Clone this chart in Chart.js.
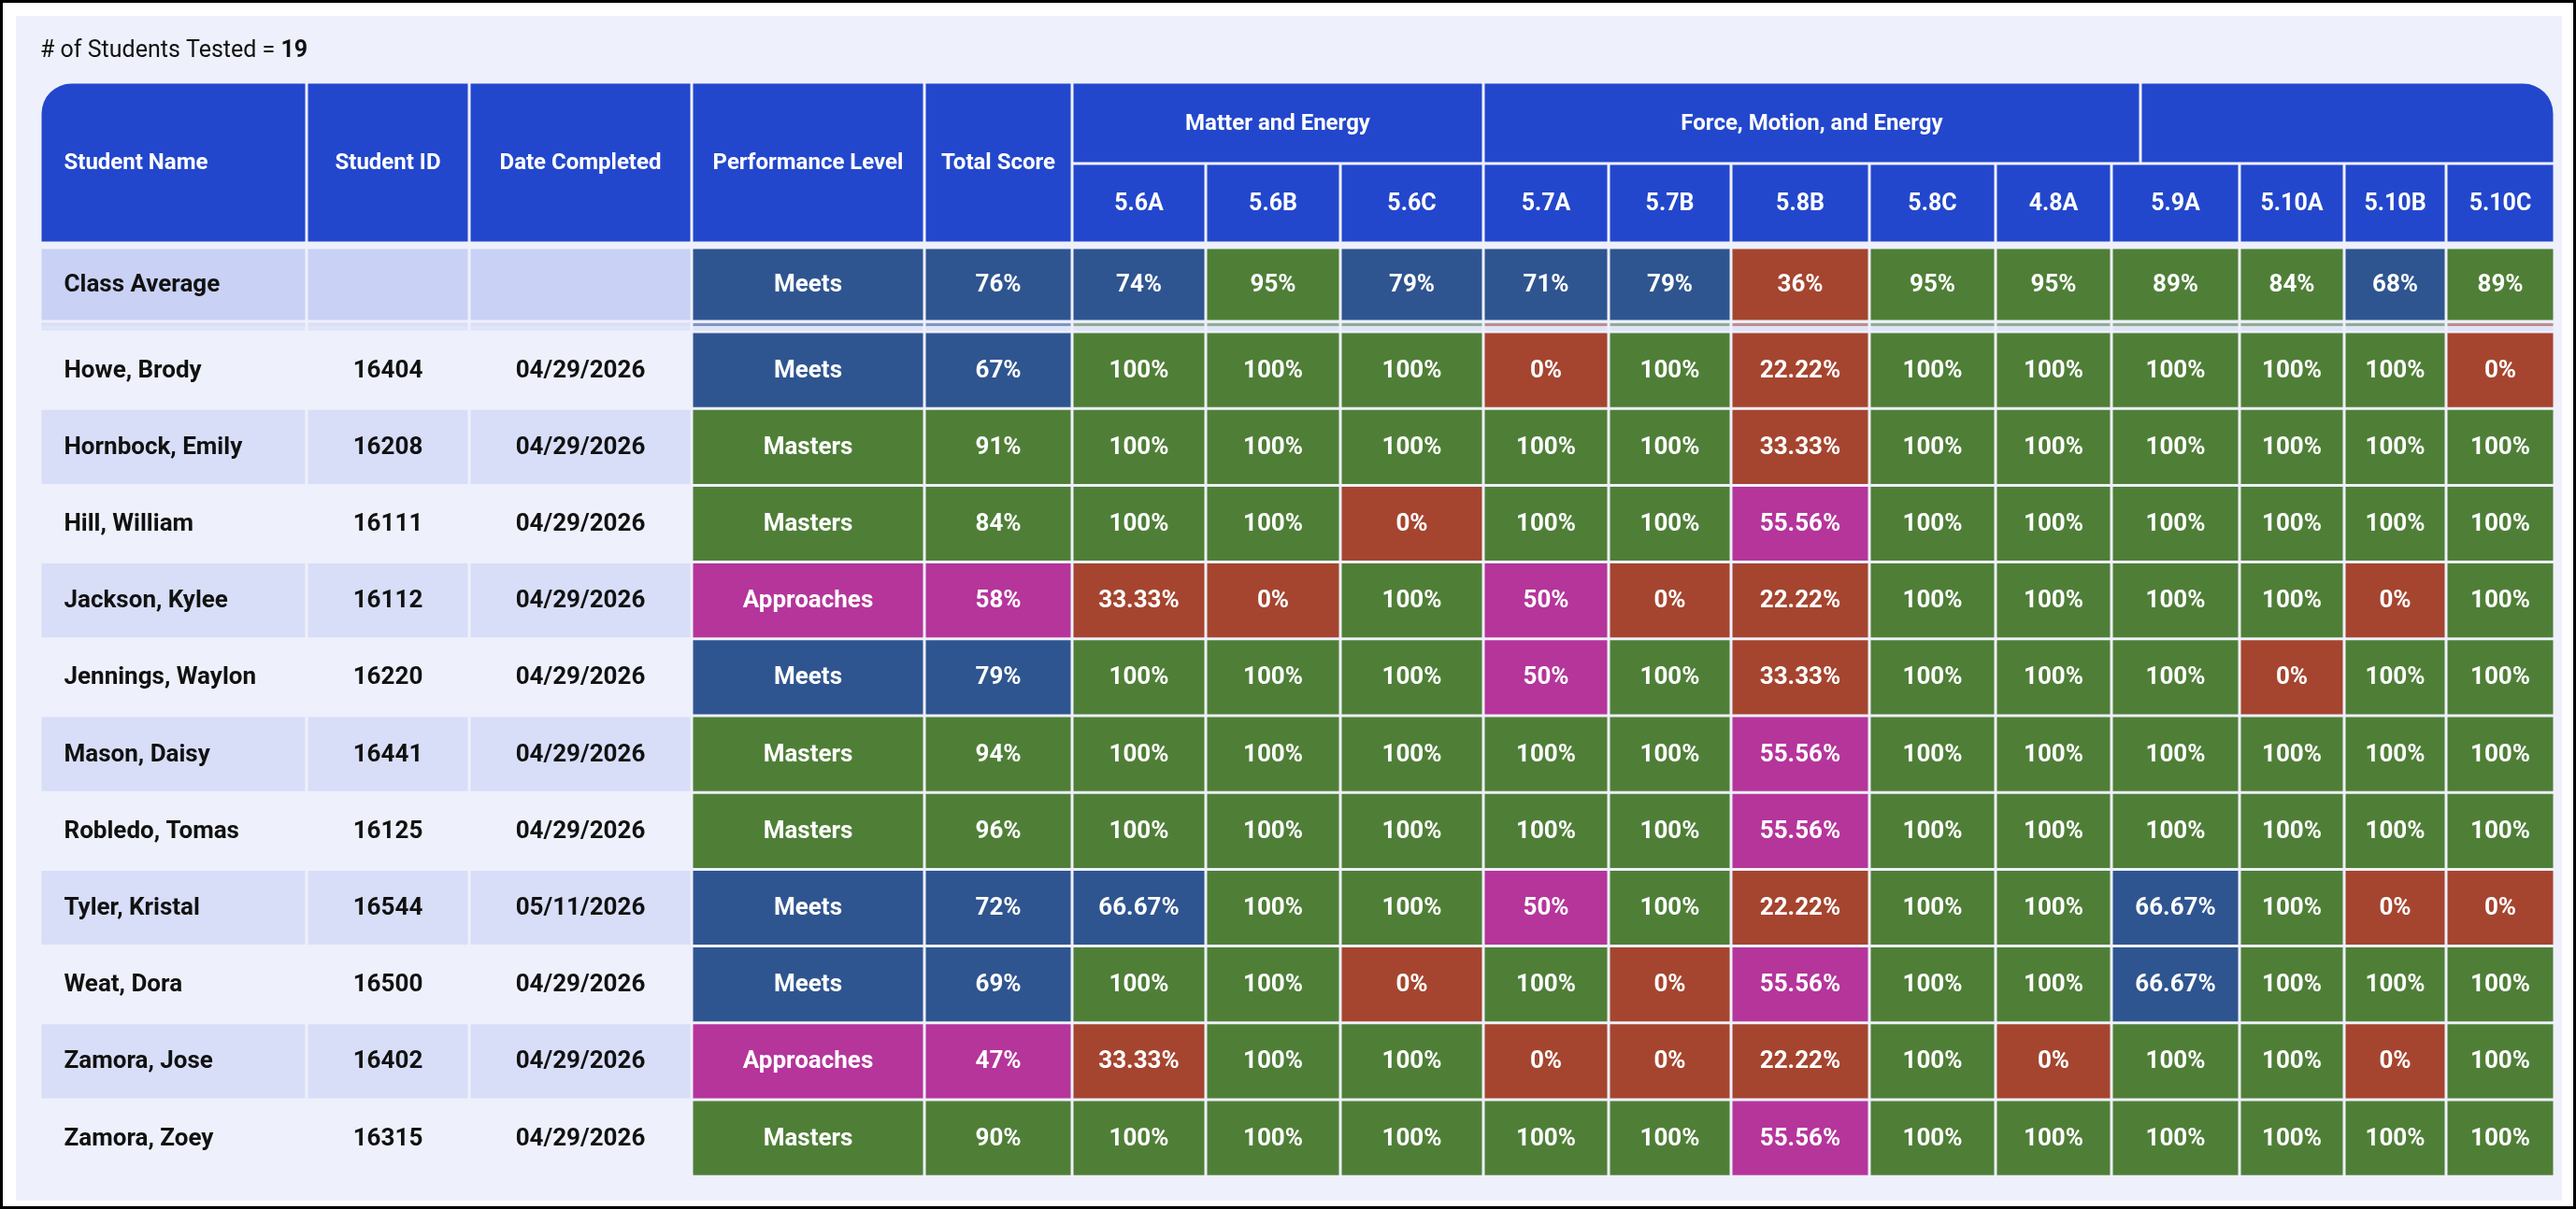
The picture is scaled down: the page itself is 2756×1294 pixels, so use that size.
<!DOCTYPE html>
<html><head><meta charset="utf-8">
<script src="https://cdn.jsdelivr.net/npm/chart.js@4"></script>
<style>
html,body{margin:0;padding:0;background:#fff;}
#wrap{width:2756px;height:1294px;box-sizing:border-box;border:3px solid #000;}
canvas{display:block;}
</style></head>
<body><div id="wrap"><canvas id="c" width="2750" height="1288"></canvas></div>
<script>
// ── Data ─────────────────────────────────────────────────────────────────────
const studentsTested = 19;
const groups = ["Matter and Energy", "Force, Motion, and Energy", ""];
const groupSpans = [3, 5, 4];
const fixedHeaders = ["Student Name", "Student ID", "Date Completed", "Performance Level", "Total Score"];
const standards = ["5.6A","5.6B","5.6C","5.7A","5.7B","5.8B","5.8C","4.8A","5.9A","5.10A","5.10B","5.10C"];

const names = ["Howe, Brody","Hornbock, Emily","Hill, William","Jackson, Kylee","Jennings, Waylon",
  "Mason, Daisy","Robledo, Tomas","Tyler, Kristal","Weat, Dora","Zamora, Jose","Zamora, Zoey"];
const ids = ["16404","16208","16111","16112","16220","16441","16125","16544","16500","16402","16315"];
const dates = ["04/29/2026","04/29/2026","04/29/2026","04/29/2026","04/29/2026","04/29/2026",
  "04/29/2026","05/11/2026","04/29/2026","04/29/2026","04/29/2026"];
const levels = ["Meets","Masters","Masters","Approaches","Meets","Masters","Masters","Meets","Meets","Approaches","Masters"];
const totals = [67, 91, 84, 58, 79, 94, 96, 72, 69, 47, 90];
const scores = [
  [100,100,100, 0,100,22.22,100,100, 100,100,100,0],
  [100,100,100, 100,100,33.33,100,100, 100,100,100,100],
  [100,100,0, 100,100,55.56,100,100, 100,100,100,100],
  [33.33,0,100, 50,0,22.22,100,100, 100,100,0,100],
  [100,100,100, 50,100,33.33,100,100, 100,0,100,100],
  [100,100,100, 100,100,55.56,100,100, 100,100,100,100],
  [100,100,100, 100,100,55.56,100,100, 100,100,100,100],
  [66.67,100,100, 50,100,22.22,100,100, 66.67,100,0,0],
  [100,100,0, 100,0,55.56,100,100, 66.67,100,100,100],
  [33.33,100,100, 0,0,22.22,100,0, 100,100,0,100],
  [100,100,100, 100,100,55.56,100,100, 100,100,100,100]
];
const avgLevel = "Meets";
const avgTotal = 76;
const avgScores = [74,95,79, 71,79,36,95,95, 89,84,68,89];

// ── Layout (pixels in chart scale units) ─────────────────────────────────────
const COL_EDGES = [40,325,499,737,986,1144,1287,1431,1584,1718,1849,1997,2132,2256,2393,2505,2614,2730];
const GROUP_EDGES = [1144, 1584, 2287, 2730];
const HDR_TOP = 85, HDR_MID = 172, HDR_BOT = 257;
const AVG_TOP = 262, AVG_BOT = 341;
const ROW_TOP = 352, ROW_H = 82.2;

const C = { green:"#4f7f37", blue:"#2f5590", magenta:"#b5359b", red:"#a5452f", hdr:"#2347cc",
  panel:"#eef0fb", avgBg:"#c9d1f5", rowA:"#eef1fb", rowB:"#d8def8", ink:"#111" };
const LEVEL_COLORS = { Masters:C.green, Meets:C.blue, Approaches:C.magenta };
function colorFor(v){ return v >= 80 ? C.green : v >= 60 ? C.blue : v >= 45 ? C.magenta : C.red; }
function fmt(v){ return (Number.isInteger(v) ? v : v.toFixed(2)) + "%"; }

// ── Table plugin: all cells placed through the chart's scales ────────────────
const tablePlugin = {
  id: "table",
  beforeDatasetsDraw(chart) {
    const {ctx, scales:{x, y}} = chart;
    const X = v => x.getPixelForValue(v), Y = v => y.getPixelForValue(v);
    const F = "Roboto, 'Liberation Sans', sans-serif";

    function box(x0, x1, y0, y1, fill, text, opts = {}) {
      const px0 = X(x0) + 1.5, px1 = X(x1) - 1.5;
      const py0 = Y(y0) + 1.5, py1 = Y(y1) - 1.5;
      ctx.fillStyle = fill;
      ctx.beginPath();
      if (opts.radius) ctx.roundRect(px0, py0, px1 - px0, py1 - py0, opts.radius);
      else ctx.rect(px0, py0, px1 - px0, py1 - py0);
      ctx.fill();
      if (!text) return;
      ctx.fillStyle = opts.color || "#fff";
      ctx.font = `bold ${opts.size || 26}px ${F}`;
      ctx.textBaseline = "middle";
      if (opts.left) { ctx.textAlign = "left"; ctx.fillText(text, px0 + 24, (py0 + py1) / 2 + 1); }
      else { ctx.textAlign = "center"; ctx.fillText(text, (px0 + px1) / 2, (py0 + py1) / 2 + 1); }
    }
    const cell = (c0, c1, y0, y1, fill, text, opts) => box(COL_EDGES[c0], COL_EDGES[c1], y0, y1, fill, text, opts);

    // panel
    ctx.fillStyle = C.panel;
    ctx.fillRect(X(14), Y(14), X(2738) - X(14), Y(1282) - Y(14));

    // title
    ctx.fillStyle = C.ink; ctx.textBaseline = "middle"; ctx.textAlign = "left";
    ctx.font = `25px ${F}`;
    const lead = "# of Students Tested = ";
    ctx.fillText(lead, X(40), Y(52));
    const w = ctx.measureText(lead).width;
    ctx.font = `bold 25px ${F}`;
    ctx.fillText(String(studentsTested), X(40) + w, Y(52));

    // header
    fixedHeaders.forEach((h, i) =>
      cell(i, i + 1, HDR_TOP, HDR_BOT, C.hdr, h, { size: 24, left: i === 0, radius: i === 0 ? [32,0,0,0] : 0 }));
    groups.forEach((g, gi) =>
      box(GROUP_EDGES[gi], GROUP_EDGES[gi + 1], HDR_TOP, HDR_MID, C.hdr, g,
        { size: 24, radius: gi === groups.length - 1 ? [0,32,0,0] : 0 }));
    standards.forEach((s, i) => cell(5 + i, 6 + i, HDR_MID, HDR_BOT, C.hdr, s, { size: 25 }));

    // class average
    cell(0, 1, AVG_TOP, AVG_BOT, C.avgBg, "Class Average", { color: C.ink, left: true });
    cell(1, 2, AVG_TOP, AVG_BOT, C.avgBg, "");
    cell(2, 3, AVG_TOP, AVG_BOT, C.avgBg, "");
    cell(3, 4, AVG_TOP, AVG_BOT, LEVEL_COLORS[avgLevel], avgLevel);
    cell(4, 5, AVG_TOP, AVG_BOT, colorFor(avgTotal), fmt(avgTotal));
    avgScores.forEach((v, i) => cell(5 + i, 6 + i, AVG_TOP, AVG_BOT, colorFor(v), fmt(v)));
    // separator strip
    for (let k = 0; k < 17; k++) {
      const fill = k < 3 ? "#d3daf6" : k === 3 ? LEVEL_COLORS[levels[0]] : k === 4 ? colorFor(totals[0]) : colorFor(scores[0][k - 5]);
      const x0 = X(COL_EDGES[k]) + 1.5, wd = X(COL_EDGES[k + 1]) - X(COL_EDGES[k]) - 3;
      ctx.fillStyle = "#dfe4f8";
      ctx.fillRect(x0, Y(AVG_BOT + 1), wd, Y(ROW_TOP - 1) - Y(AVG_BOT + 1));
      ctx.globalAlpha = 0.55; ctx.fillStyle = fill;
      ctx.fillRect(x0, Y(AVG_BOT + 2), wd, 3);
      ctx.globalAlpha = 1;
    }

    // student rows
    names.forEach((n, r) => {
      const y0 = ROW_TOP + r * ROW_H, y1 = y0 + ROW_H;
      const bg = r % 2 ? C.rowB : C.rowA;
      cell(0, 1, y0, y1, bg, n, { color: C.ink, left: true });
      cell(1, 2, y0, y1, bg, ids[r], { color: C.ink });
      cell(2, 3, y0, y1, bg, dates[r], { color: C.ink });
      cell(3, 4, y0, y1, LEVEL_COLORS[levels[r]], levels[r]);
      cell(4, 5, y0, y1, colorFor(totals[r]), fmt(totals[r]));
      scores[r].forEach((v, i) => cell(5 + i, 6 + i, y0, y1, colorFor(v), fmt(v)));
    });
  }
};

new Chart(document.getElementById("c"), {
  type: "scatter",
  data: { datasets: [{ data: [], pointRadius: 0 }] },
  options: {
    responsive: false,
    animation: false,
    devicePixelRatio: 1,
    layout: { padding: 0 },
    scales: {
      x: { type: "linear", min: 0, max: 2750, display: false },
      y: { type: "linear", min: 0, max: 1288, reverse: true, display: false }
    },
    plugins: { legend: { display: false }, tooltip: { enabled: false } }
  },
  plugins: [tablePlugin]
});
</script></body></html>
